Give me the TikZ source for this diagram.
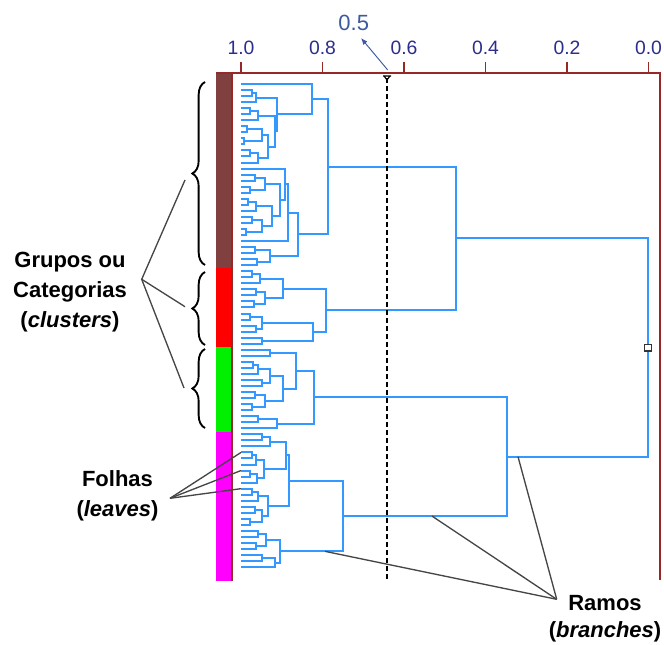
\documentclass[tikz,border=0pt]{standalone}
\usepackage{fontspec}
\setmainfont{Liberation Sans}
\usetikzlibrary{calc,decorations.pathreplacing,arrows.meta}

\definecolor{branchblue}{RGB}{51,153,255}
\definecolor{framered}{RGB}{150,40,40}
\definecolor{ticknavy}{RGB}{45,45,140}
\definecolor{cutblue}{RGB}{60,90,160}
\definecolor{grpbrown}{RGB}{128,64,64}
\definecolor{grpred}{RGB}{255,0,0}
\definecolor{grpgreen}{RGB}{0,240,0}
\definecolor{grpmagenta}{RGB}{255,0,255}
\definecolor{leadergray}{RGB}{70,70,70}

\tikzset{
  branch/.style={draw=branchblue, line width=1.5pt},
  frame/.style={draw=framered, line width=1.2pt},
  ticklbl/.style={text=ticknavy, inner sep=0pt, font=\fontsize{14.5}{17}\selectfont},
  cutlbl/.style={text=cutblue, inner sep=0pt, font=\fontsize{16.5}{19}\selectfont},
  cutline/.style={draw=black, line width=1.1pt, dash pattern=on 3.4pt off 2.6pt},
  cutarrow/.style={draw=cutblue, line width=0.7pt, -{Latex[length=5pt,width=4pt]}},
  grpbrace/.style={draw=black, line width=1.4pt, decorate,
    decoration={brace, amplitude=9.5pt}},
  leader/.style={draw=leadergray, line width=1pt},
  lbl/.style={align=center, inner sep=0pt, font=\bfseries\fontsize{16.5}{22.5}\selectfont},
  rootmark/.style={draw=black!80, fill=white, line width=1pt, minimum size=5pt, inner sep=0pt}
}

% join two clusters (#2 above, #3 below) at height #4; the new cluster is #1
\newcommand\dendjoin[4]{%
  \path (#4,0) coordinate (hx);
  \draw[branch] (#2) -- (hx |- #2) -- (hx |- #3) -- (#3);
  \path ($(hx |- #2)!0.5!(hx |- #3)$) coordinate (#1);
}

\begin{document}
\begin{tikzpicture}[x=0.75pt, y=-0.75pt]
\useasboundingbox (0,0) rectangle (664,645);
\fill[white] (0,0) rectangle (664,645);

% group colour bars
\fill[grpbrown]   (216,73)  rectangle (231,268);
\fill[grpred]     (216,268) rectangle (231,347);
\fill[grpgreen]   (216,347) rectangle (231,432);
\fill[grpmagenta] (216,432) rectangle (231,581);

% frame and distance axis
\draw[frame] (232,581) -- (232,73);
\draw[frame] (216,73) -- (660,73) -- (660,580);
\foreach \v/\x [count=\i] in {1.0/241, 0.8/322.5, 0.6/404, 0.4/485.5, 0.2/567, 0.0/648.5} {
  \draw[frame] (\x,73) -- (\x,62);
  \node[ticklbl] (tk\i) at (\x,48) {\v};
}

% leaves
\foreach \k in {0,...,80} {
  \path (241,{84+6.04*\k}) coordinate (l\k);
}

% brown group
\dendjoin{a1}{l1}{l2}{252}
\dendjoin{a2}{a1}{l3}{256}
\dendjoin{a3}{l4}{l5}{250}
\dendjoin{a4}{a3}{l6}{258}
\dendjoin{a5}{l7}{l8}{247}
\dendjoin{a6}{l9}{l10}{244}
\dendjoin{a7}{a5}{a6}{262}
\dendjoin{a8}{l11}{l12}{250}
\dendjoin{a9}{a8}{l13}{258}
\dendjoin{a10}{a7}{a9}{268}
\dendjoin{a11}{a4}{a10}{275}
\dendjoin{a12}{a2}{a11}{277}
\dendjoin{a13}{l0}{a12}{312}
\dendjoin{b1}{l15}{l16}{255}
\dendjoin{b2}{l17}{l18}{250}
\dendjoin{b3}{b1}{b2}{265}
\dendjoin{b4}{l19}{l20}{248}
\dendjoin{b5}{b4}{l21}{256}
\dendjoin{b6}{l22}{l23}{252}
\dendjoin{b7}{l24}{l25}{246}
\dendjoin{b8}{b6}{b7}{262}
\dendjoin{b9}{b5}{b8}{272}
\dendjoin{b10}{b3}{b9}{280}
\dendjoin{b11}{l14}{b10}{285}
\dendjoin{b12}{b11}{l26}{288}
\dendjoin{b13}{l27}{l28}{255}
\dendjoin{b14}{l29}{l30}{257}
\dendjoin{b15}{b13}{b14}{270}
\dendjoin{b16}{b12}{b15}{298}
\dendjoin{ca}{a13}{b16}{328}

% red group
\dendjoin{r1}{l31}{l32}{252}
\dendjoin{r2}{r1}{l33}{260}
\dendjoin{r3}{l34}{l35}{256}
\dendjoin{r4}{l36}{l37}{254}
\dendjoin{r5}{r3}{r4}{265}
\dendjoin{r6}{r2}{r5}{283}
\dendjoin{r7}{l38}{l39}{250}
\dendjoin{r8}{l40}{l41}{256}
\dendjoin{r9}{r7}{r8}{262}
\dendjoin{r10}{l42}{l43}{262}
\dendjoin{r11}{r9}{r10}{313}
\dendjoin{cr}{r6}{r11}{326}

\dendjoin{c1}{ca}{cr}{456}

% green group
\dendjoin{g1}{l44}{l45}{270}
\dendjoin{g2}{l46}{l47}{253}
\dendjoin{g3}{g2}{l48}{258}
\dendjoin{g4}{l49}{l50}{262}
\dendjoin{g5}{g3}{g4}{270}
\dendjoin{g6}{l51}{l52}{255}
\dendjoin{g7}{l53}{l54}{252}
\dendjoin{g8}{g6}{g7}{265}
\dendjoin{g9}{g5}{g8}{283}
\dendjoin{g10}{g1}{g9}{296}
\dendjoin{g11}{l55}{l56}{258}
\dendjoin{g12}{g11}{l57}{277}
\dendjoin{cg}{g10}{g12}{314}

% magenta group
\dendjoin{m1}{l58}{l59}{262}
\dendjoin{m2}{m1}{l60}{270}
\dendjoin{m3}{l61}{l62}{252}
\dendjoin{m4}{m3}{l63}{256}
\dendjoin{m5}{l64}{l65}{250}
\dendjoin{m6}{m5}{l66}{257}
\dendjoin{m7}{m4}{m6}{264}
\dendjoin{m8}{m2}{m7}{286}
\dendjoin{m9}{l67}{l68}{252}
\dendjoin{m10}{m9}{l69}{258}
\dendjoin{m11}{l70}{l71}{255}
\dendjoin{m12}{l72}{l73}{250}
\dendjoin{m13}{m11}{m12}{262}
\dendjoin{m14}{m10}{m13}{268}
\dendjoin{m15}{m8}{m14}{289}
\dendjoin{m16}{l74}{l75}{258}
\dendjoin{m17}{l76}{l77}{256}
\dendjoin{m18}{m16}{m17}{266}
\dendjoin{m19}{l78}{l79}{262}
\dendjoin{m20}{m19}{l80}{275}
\dendjoin{m21}{m18}{m20}{280}
\dendjoin{cm}{m15}{m21}{343}

\dendjoin{c2}{cg}{cm}{507}
\dendjoin{root}{c1}{c2}{648}
\node[rootmark] (rootbox) at (root) {};

% cut line
\coordinate (cuttop) at (387,78);
\coordinate (cutbot) at (387,580);
\draw[cutline] (cuttop) -- (cutbot);
\draw[line width=0.8pt] (383,76) -- (391,76) (384,76) -- (387,80) -- (390,76);
\node[cutlbl] (cut05) at (353.7,22.7) {0.5};
\coordinate (cutfoot) at (387.7,70);
\coordinate (cuttip) at (361,38);
\draw[cutarrow] (cutfoot) -- (cuttip);

% cluster braces
\draw[grpbrace] (205,265) -- (205,82);
\draw[grpbrace] (205,345) -- (205,272);
\draw[grpbrace] (205,428) -- (205,349);
\coordinate (bt1) at (185,180);
\coordinate (bt2) at (185,306.7);
\coordinate (bt3) at (184,388);

% labels and leader lines
\node[lbl] (grp) at (70,292) {Grupos ou\\Categorias\\(\textit{clusters})};
\coordinate (gsrc) at (141.7,279.3);
\draw[leader] (bt1) -- (gsrc) -- (bt3);
\draw[leader] (gsrc) -- (bt2);

\node[lbl] (fol) at (117.5,496) {Folhas\\(\textit{leaves})};
\coordinate (fsrc) at (170,498.3);
\draw[leader] (fsrc) -- (l61);
\draw[leader] (fsrc) -- (l64);
\draw[leader] (fsrc) -- (l67);

\node[lbl, font=\bfseries\fontsize{16.5}{20}\selectfont] (ram) at (605,619) {Ramos\\(\textit{branches})};
\coordinate (rsrc) at (556.7,599.3);
\coordinate (rb1) at ($(c2)+(11,0)$);
\coordinate (rb2) at ($(cm)+(89,0)$);
\coordinate (rb3) at ($(m21)+(45,0)$);
\draw[leader] (rsrc) -- (rb1);
\draw[leader] (rsrc) -- (rb2);
\draw[leader] (rsrc) -- (rb3);
\end{tikzpicture}
\end{document}
